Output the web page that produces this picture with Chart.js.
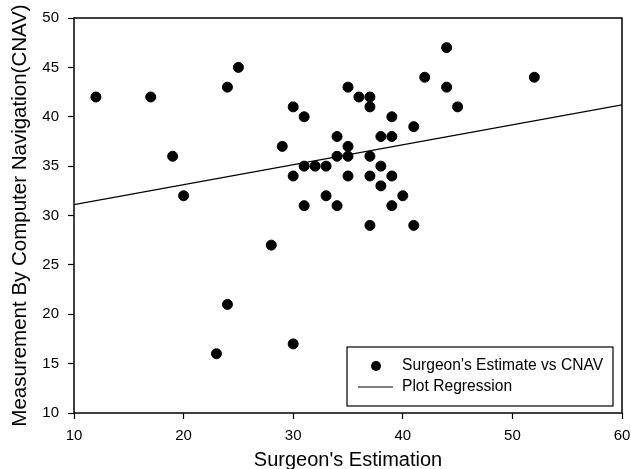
<!DOCTYPE html>
<html>
<head>
<meta charset="utf-8">
<script src="https://cdn.jsdelivr.net/npm/chart.js@4/dist/chart.umd.min.js"></script>
<style>
  html, body { margin: 0; padding: 0; background: #fff; }
  #wrap { width: 631px; height: 469px; }
</style>
</head>
<body>
<div id="wrap"><canvas id="myChart"></canvas></div>
<script>
// Surgeon's estimate (x) vs CNAV measurement (y)
const estimate = [12, 17, 19, 20, 23, 24, 24, 25, 28, 29, 30, 30, 30, 31, 31, 31, 32, 33, 33, 34, 34, 34,
  35, 35, 35, 35, 36, 37, 37, 37, 37, 37, 38, 38, 38, 39, 39, 39, 39, 40, 41, 41, 42, 44, 44, 45, 52];
const cnav = [42, 42, 36, 32, 16, 43, 21, 45, 27, 37, 41, 34, 17, 40, 35, 31, 35, 35, 32, 38, 36, 31,
  43, 37, 36, 34, 42, 42, 41, 36, 34, 29, 38, 35, 33, 40, 38, 34, 31, 32, 39, 29, 44, 47, 43, 41, 44];

// regression line end points
const regX = [10, 60];
const regY = [31.1, 41.2];

const xTicks = [10, 20, 30, 40, 50, 60];
const yTicks = [10, 15, 20, 25, 30, 35, 40, 45, 50];

const pts = estimate.map((v, i) => ({ x: v, y: cnav[i] }));
const regPts = regX.map((v, i) => ({ x: v, y: regY[i] }));

const FONT = "'Liberation Sans', Arial, sans-serif";

// frame round the plot area + legend box in the lower right
const framePlugin = {
  id: 'frame',
  afterDraw(chart) {
    const c = chart.ctx;
    const a = chart.chartArea;
    c.save();
    c.strokeStyle = '#000';
    c.lineWidth = 1.5;
    c.strokeRect(a.left, a.top, a.right - a.left, a.bottom - a.top);

    // legend
    const bx = a.right - 275, by = a.bottom - 66, bw = 266, bh = 59;
    c.fillStyle = '#fff';
    c.fillRect(bx, by, bw, bh);
    c.lineWidth = 1.2;
    c.strokeRect(bx, by, bw, bh);
    c.fillStyle = '#000';
    c.beginPath();
    c.arc(bx + 29, by + 19, 5, 0, Math.PI * 2);
    c.fill();
    c.lineWidth = 1;
    c.beginPath();
    c.moveTo(bx + 11, by + 40);
    c.lineTo(bx + 46, by + 40);
    c.stroke();
    c.font = '15.6px ' + FONT;
    c.textBaseline = 'middle';
    c.textAlign = 'left';
    c.fillText("Surgeon's Estimate vs CNAV", bx + 55, by + 19);
    c.fillText('Plot Regression', bx + 55, by + 40);
    c.restore();
  }
};

let ctx = document.getElementById('myChart');
const myChart = new Chart(ctx, {
  type: 'scatter',
  data: {
    datasets: [
      {
        label: "Surgeon's Estimate vs CNAV",
        data: pts,
        backgroundColor: '#000',
        borderColor: '#000',
        pointRadius: 5,
        pointHoverRadius: 5,
      },
      {
        type: 'line',
        label: 'Plot Regression',
        data: regPts,
        borderColor: '#000',
        borderWidth: 1.3,
        pointRadius: 0,
        fill: false,
        tension: 0,
      },
    ],
  },
  options: {
    responsive: true,
    maintainAspectRatio: false,
    animation: false,
    layout: { padding: { top: 18, right: 9, left: 0, bottom: 0 } },
    plugins: {
      legend: { display: false },
      tooltip: { enabled: false },
    },
    scales: {
      x: {
        type: 'linear',
        min: 10,
        max: 60,
        afterFit: (s) => { s.height = 56; s.paddingLeft = 0; s.paddingRight = 0; },
        afterBuildTicks: (s) => { s.ticks = xTicks.map(v => ({ value: v })); },
        grid: { drawOnChartArea: false, drawTicks: true, tickLength: 6, color: '#000', tickWidth: 1.2 },
        border: { display: false },
        ticks: { color: '#000', padding: 8, maxRotation: 0, font: { family: FONT, size: 15 } },
        title: {
          display: true,
          text: "Surgeon's Estimation",
          color: '#000',
          font: { family: FONT, size: 20, lineHeight: 0.8 },
          padding: { top: 0, bottom: 1 },
        },
      },
      y: {
        type: 'linear',
        min: 10,
        max: 50,
        afterFit: (s) => { s.width = 74; s.paddingTop = 0; s.paddingBottom = 0; },
        afterBuildTicks: (s) => { s.ticks = yTicks.map(v => ({ value: v })); },
        grid: { drawOnChartArea: false, drawTicks: true, tickLength: 6, color: '#000', tickWidth: 1.2 },
        border: { display: false },
        ticks: { color: '#000', padding: 9, font: { family: FONT, size: 15 } },
        title: {
          display: true,
          text: 'Measurement By Computer Navigation(CNAV)',
          color: '#000',
          font: { family: FONT, size: 20.5 },
          padding: { top: 8, bottom: 0 },
        },
      },
    },
  },
  plugins: [framePlugin],
});
</script>
</body>
</html>
